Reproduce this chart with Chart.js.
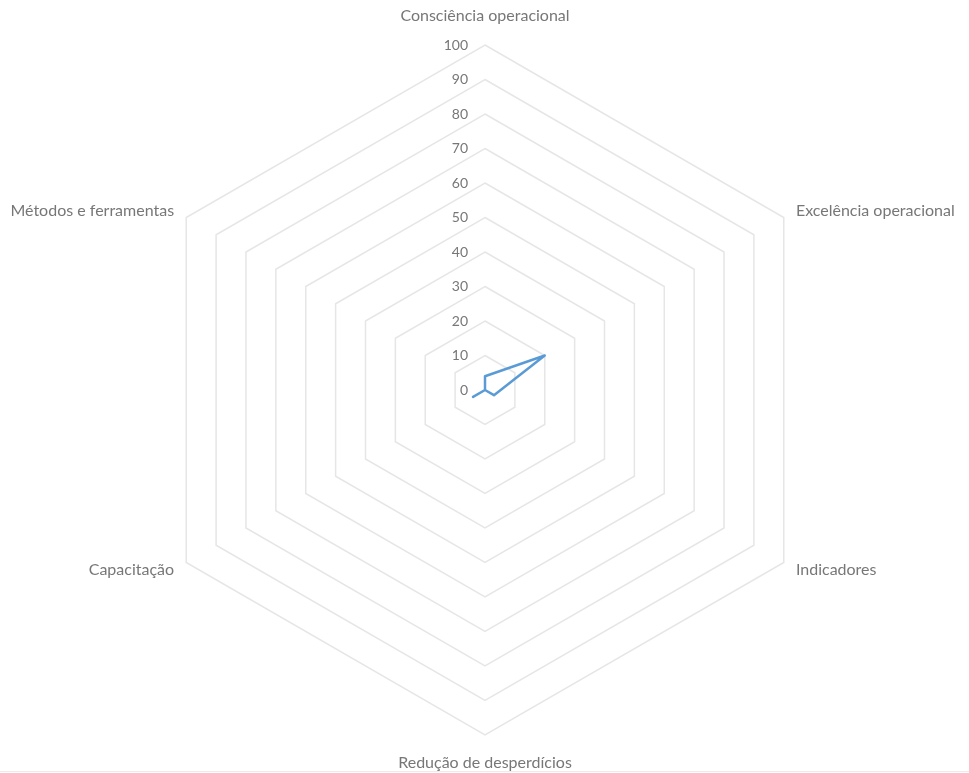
<!DOCTYPE html>
<html>
<head>
<meta charset="utf-8">
<script src="https://cdn.jsdelivr.net/npm/chart.js@4/dist/chart.umd.min.js"></script>
<style>
  html, body { margin: 0; padding: 0; background: #ffffff; }
  #wrap { width: 969px; height: 773px; position: relative; }
</style>
</head>
<body>
<div id="wrap"><canvas id="radar" width="969" height="773"></canvas></div>
<script>
// Dimensions of the assessment and the scores obtained
const categories = [
  'Consciência operacional',
  'Excelência operacional',
  'Indicadores',
  'Redução de desperdícios',
  'Capacitação',
  'Métodos e ferramentas'
];
const scores = [4, 20, 3, 0, 4, 0];
const tickValues = [0, 10, 20, 30, 40, 50, 60, 70, 80, 90, 100];

const CENTER_X = 485;
const CENTER_Y = 390;
const RADIUS = 345;
const TICK_FONT = '14px Lato, "Open Sans", sans-serif';
const LABEL_FONT = '16px Lato, "Open Sans", sans-serif';
const TEXT_COLOR = '#777777';

// Category names and 0–100 tick labels, positioned through the radial scale
const radarText = {
  id: 'radarText',
  afterDraw(chart) {
    const scale = chart.scales.r;
    const ctx = chart.ctx;
    ctx.save();
    ctx.fillStyle = TEXT_COLOR;

    // tick labels to the left of the vertical axis
    ctx.font = TICK_FONT;
    ctx.textAlign = 'right';
    ctx.textBaseline = 'middle';
    tickValues.forEach(v => {
      const d = scale.getDistanceFromCenterForValue(v);
      ctx.fillText(String(v), scale.xCenter - 17, scale.yCenter - d);
    });

    // category labels around the polygon
    ctx.font = LABEL_FONT;
    categories.forEach((label, i) => {
      const n = categories.length;
      if (i === 0) {
        const p = scale.getPointPosition(i, scale.drawingArea + 21);
        ctx.textAlign = 'center';
        ctx.textBaseline = 'bottom';
        ctx.fillText(label, p.x, p.y);
      } else if (i * 2 === n) {
        const p = scale.getPointPosition(i, scale.drawingArea + 20);
        ctx.textAlign = 'center';
        ctx.textBaseline = 'top';
        ctx.fillText(label, p.x, p.y);
      } else {
        const p = scale.getPointPosition(i, scale.drawingArea + 14);
        ctx.textAlign = p.x > scale.xCenter ? 'left' : 'right';
        ctx.textBaseline = 'middle';
        ctx.fillText(label, p.x, p.y);
      }
    });

    // faint frame line along the bottom edge
    ctx.strokeStyle = '#ececec';
    ctx.lineWidth = 1;
    ctx.beginPath();
    ctx.moveTo(0, 771.5);
    ctx.lineTo(chart.width, 771.5);
    ctx.stroke();
    ctx.restore();
  }
};

new Chart(document.getElementById('radar'), {
  type: 'radar',
  data: {
    labels: categories,
    datasets: [{
      data: scores,
      borderColor: '#5B9BD5',
      borderWidth: 2.5,
      borderJoinStyle: 'round',
      fill: false,
      pointRadius: 0,
      pointHoverRadius: 0,
      tension: 0
    }]
  },
  options: {
    responsive: false,
    animation: false,
    events: [],
    layout: { padding: 0 },
    plugins: {
      legend: { display: false },
      tooltip: { enabled: false }
    },
    scales: {
      r: {
        min: 0,
        max: 100,
        beginAtZero: true,
        ticks: { stepSize: 10, display: false },
        pointLabels: { display: false },
        angleLines: { display: false },
        grid: { color: '#e6e6e6', lineWidth: 1.5, circular: false },
        afterFit(scale) {
          scale.xCenter = CENTER_X;
          scale.yCenter = CENTER_Y;
          scale.drawingArea = RADIUS;
        }
      }
    }
  },
  plugins: [radarText]
});
</script>
</body>
</html>
